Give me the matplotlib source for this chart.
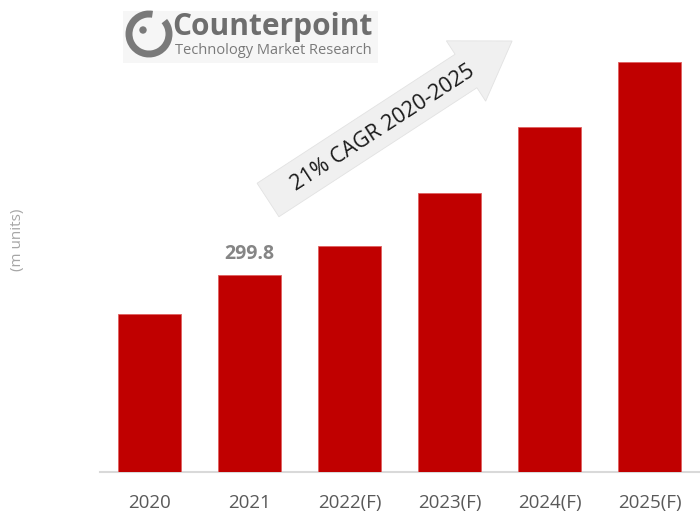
import matplotlib
matplotlib.use("Agg")
import matplotlib.pyplot as plt
import matplotlib.patches as mpatches
import matplotlib.transforms as mtransforms

plt.rcParams['font.family'] = ['Open Sans', 'DejaVu Sans']

years = ['2020', '2021', '2022(F)', '2023(F)', '2024(F)', '2025(F)']
units = [240.4, 299.8, 344.0, 424.6, 525.0, 624.0]
labelled = {1: '299.8'}

fig = plt.figure(figsize=(7, 5.27), dpi=100)
ax = fig.add_axes([100 / 700, 55 / 527, 600 / 700, 472 / 527])

x = list(range(len(years)))
ax.bar(x, units, width=0.63, color='#C00000', edgecolor='#E06060', linewidth=0.6, zorder=3)
for i, txt in labelled.items():
    ax.text(x[i], units[i] + 17, txt, ha='center', va='bottom',
            fontsize=14, fontweight='bold', color='#858585')

ax.set_xlim(-0.495, 5.505)
ax.set_ylim(0, 718)
ax.set_xticks(x)
ax.set_xticklabels(years, fontsize=13.5, color='#595959')
ax.tick_params(axis='x', length=0, pad=16)
ax.set_yticks([])
for s in ['top', 'right', 'left']:
    ax.spines[s].set_visible(False)
ax.spines['bottom'].set_color('#D9D9D9')
ax.spines['bottom'].set_linewidth(1.5)

fig.text(18 / 700, 1 - 240 / 527, '(m units)', rotation=90, ha='center', va='center',
         fontsize=11, color='#A6A6A6')

# growth arrow, drawn in pixels (origin bottom-left)
pix = mtransforms.IdentityTransform()
H = 527
arrow = mpatches.FancyArrow(268, H - 200, 198, 129, width=40, head_width=72,
                            head_length=55, transform=pix, facecolor='#F0F0F0',
                            edgecolor='#E2E2E2', lw=0.6)
fig.patches.append(arrow)
fig.text(383 / 700, 1 - 128 / 527, '21% CAGR 2020-2025', rotation=33, ha='center', va='center',
         fontsize=15.5, color='#1a1a1a', rotation_mode='anchor')

# logo
fig.patches.append(mpatches.Rectangle((123 / 700, 1 - 63 / 527), 255 / 700, 52 / 527,
                                      transform=fig.transFigure, facecolor='#F6F6F6',
                                      edgecolor='none'))
fig.patches.append(mpatches.Arc((149, H - 34), 40, 40, theta1=80, theta2=400, transform=pix,
                                color='#7A7A7A', lw=5))
fig.patches.append(mpatches.Circle((143, H - 30), 3, transform=pix, color='#7A7A7A'))
fig.text(172 / 700, 1 - 27 / 527, 'Counterpoint', fontsize=21.5, fontweight='bold',
         color='#6E6E6E', ha='left', va='center')
fig.text(175 / 700, 1 - 50 / 527, 'Technology Market Research', fontsize=10.5,
         color='#7A7A7A', ha='left', va='center')

fig.savefig('out.png', dpi=100)
